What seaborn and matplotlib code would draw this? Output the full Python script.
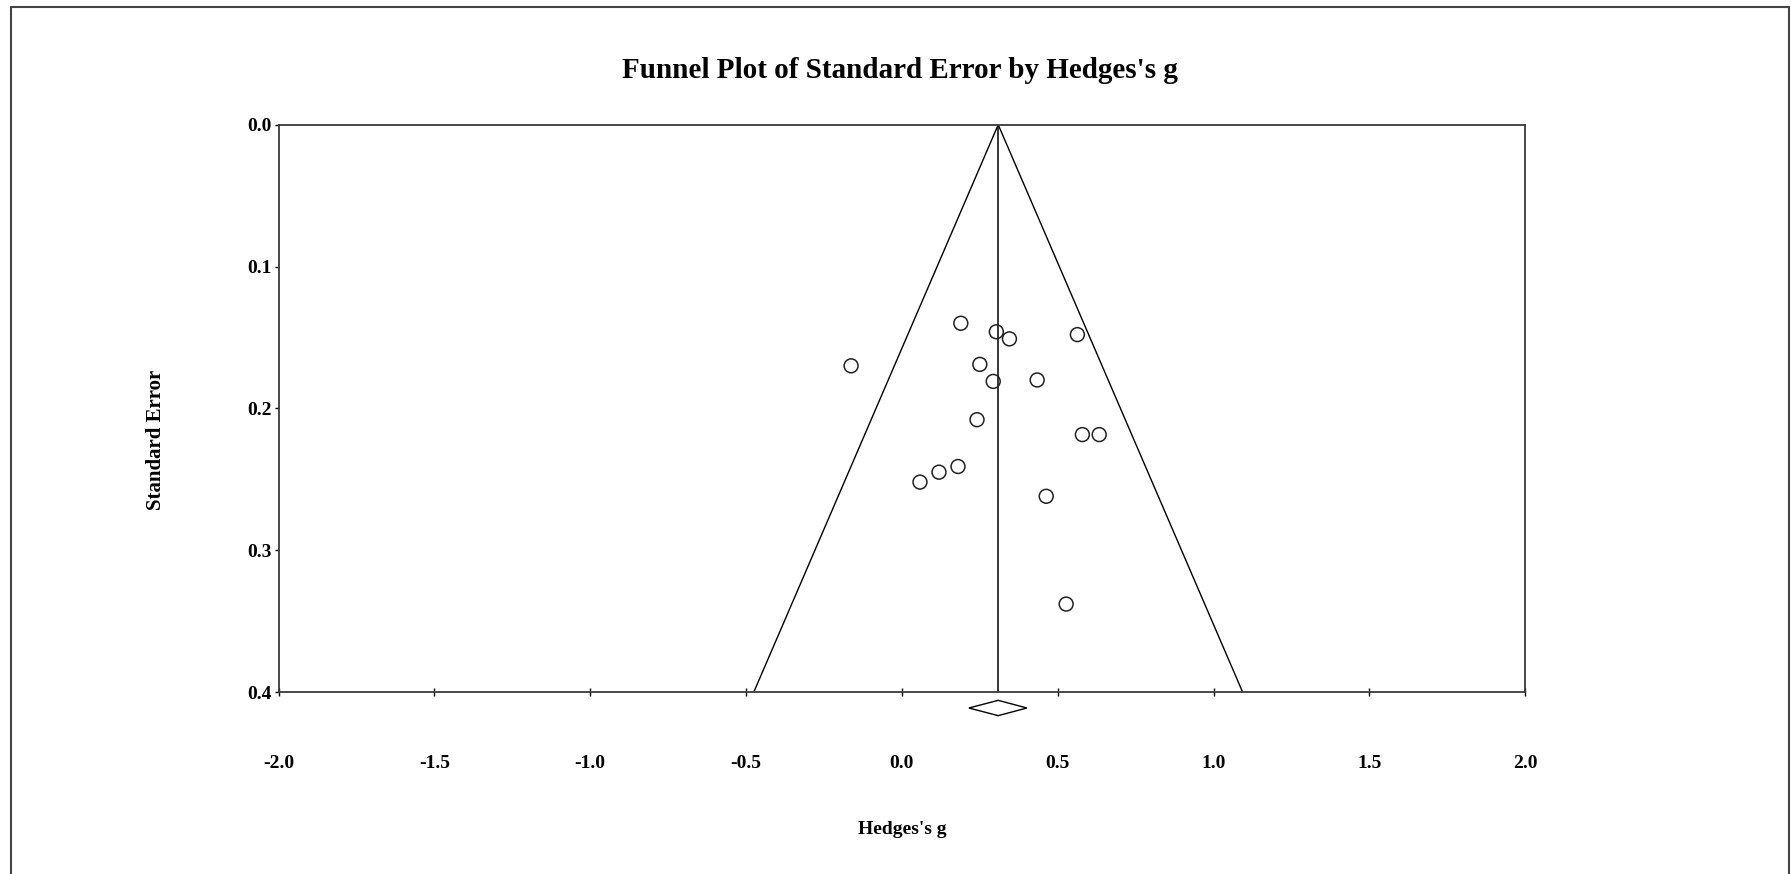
import matplotlib
matplotlib.use("Agg")
import matplotlib.pyplot as plt
import matplotlib.transforms as mtransforms
from matplotlib.lines import Line2D
import numpy as np
import pandas as pd
import seaborn as sns

# Study-level effect sizes (Hedges's g) and their standard errors
hedges_g = [-0.163, 0.189, 0.303, 0.345, 0.563, 0.250, 0.293, 0.434,
            0.241, 0.579, 0.633, 0.180, 0.119, 0.058, 0.463, 0.527]
std_err = [0.170, 0.140, 0.146, 0.151, 0.148, 0.169, 0.181, 0.180,
           0.208, 0.2185, 0.2185, 0.241, 0.245, 0.252, 0.262, 0.338]

# Pooled estimate and its confidence interval
summary_g = 0.309
summary_ci = [0.215, 0.401]

x_ticks = [-2.0, -1.5, -1.0, -0.5, 0.0, 0.5, 1.0, 1.5, 2.0]
y_ticks = [0.0, 0.1, 0.2, 0.3, 0.4]

title = "Funnel Plot of Standard Error by Hedges's g"
x_label = "Hedges's g"
y_label = "Standard Error"

sns.set_theme(style="white")
plt.rcParams["font.family"] = ["Liberation Serif", "DejaVu Serif"]
plt.rcParams["font.weight"] = "bold"
plt.rcParams["text.color"] = "black"
plt.rcParams["axes.labelcolor"] = "black"

W, H, DPI = 1791, 874, 100
fig = plt.figure(figsize=(W / DPI, H / DPI), dpi=DPI)
fig.patch.set_facecolor("white")

# axes placement in pixels
ax_l, ax_r, ax_t, ax_b = 278.5, 1525.3, 124.7, 692.0
ax = fig.add_axes([ax_l / W, (H - ax_b) / H, (ax_r - ax_l) / W, (ax_b - ax_t) / H])
ax.set_facecolor("white")

df = pd.DataFrame({"g": hedges_g, "se": std_err})

# funnel (pseudo 95% limits) and summary line
se_max = y_ticks[-1]
se_line = np.array([0.0, se_max])
ax.plot(summary_g - 1.96 * se_line, se_line, color="black", lw=1.0, zorder=2)
ax.plot(summary_g + 1.96 * se_line, se_line, color="black", lw=1.0, zorder=2)
ax.plot([summary_g, summary_g], [0.0, se_max], color="black", lw=1.1, zorder=2)

sns.scatterplot(data=df, x="g", y="se", ax=ax, marker="o", s=100,
                facecolors="none", edgecolor="#222222", linewidth=1.1,
                zorder=3, legend=False)

# summary diamond below the axis
blend = mtransforms.blended_transform_factory(ax.transData, ax.transAxes)
yc, hh = -0.0282, 0.0135
ax.fill([summary_ci[0], summary_g, summary_ci[1], summary_g],
        [yc, yc + hh, yc, yc - hh], transform=blend, facecolor="white",
        edgecolor="black", lw=1.0, clip_on=False, zorder=4)

ax.set_xlim(x_ticks[0], x_ticks[-1])
ax.set_ylim(y_ticks[-1], y_ticks[0])
ax.set_xticks(x_ticks)
ax.set_yticks(y_ticks)
ax.set_xticklabels([f"{v:.1f}" for v in x_ticks], fontsize=14, fontweight="bold")
ax.set_yticklabels([f"{v:.1f}" for v in y_ticks], fontsize=14, fontweight="bold")
ax.tick_params(axis="x", direction="inout", length=6, width=1.0, pad=42,
               colors="black", bottom=True)
ax.tick_params(axis="y", direction="out", length=3, width=1.0, pad=2,
               colors="black", left=True)

for side, sp in ax.spines.items():
    sp.set_visible(True)
    sp.set_color("#3a3a3a")
    sp.set_linewidth(1.3)

ax.set_xlabel(x_label, fontsize=14, fontweight="bold", color="black")
ax.xaxis.set_label_coords(0.5, -0.2415)
ax.xaxis.label.set_va("center")
ax.set_ylabel(y_label, fontsize=15, fontweight="bold", color="black")
ax.yaxis.set_label_coords(-0.0982, 0.444)
ax.yaxis.label.set_va("center")

fig.text(900 / W, 1 - 71 / H, title, ha="center", va="center",
         fontsize=21, fontweight="bold", color="black")

# page frame
fx0, fx1, fy1 = 11 / W, 1789 / W, 1 - 7 / H
frame_kw = dict(color="#444444", lw=1.5, transform=fig.transFigure)
fig.add_artist(Line2D([fx0, fx0], [-0.01, fy1], **frame_kw))
fig.add_artist(Line2D([fx0, fx1], [fy1, fy1], **frame_kw))
fig.add_artist(Line2D([fx1, fx1], [-0.01, fy1], **frame_kw))

fig.savefig("out.png", dpi=DPI, facecolor="white")
